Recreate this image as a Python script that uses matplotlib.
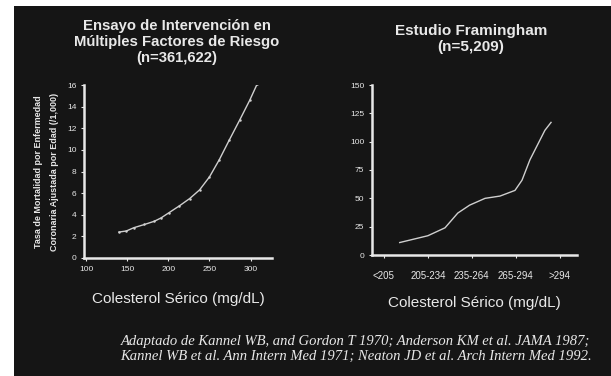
import matplotlib
matplotlib.use('Agg')
import matplotlib.pyplot as plt
from matplotlib.patches import Rectangle

# MRFIT: serum cholesterol (mg/dL) vs age adjusted CHD death rate per 1,000
MrfitChol = [140, 149, 158, 171, 183, 191, 201, 213, 226, 238, 250, 262, 274, 287, 299, 308]
MrfitRate = [2.4, 2.5, 2.8, 3.1, 3.4, 3.7, 4.2, 4.8, 5.5, 6.3, 7.5, 9.1, 10.9, 12.8, 14.6, 16.1]
MrfitXTicks = [100, 150, 200, 250, 300]
MrfitYTicks = [0, 2, 4, 6, 8, 10, 12, 14, 16]

# Framingham: cholesterol class position vs CHD incidence per 1,000
FramPos  = [0.36, 1.0, 1.39, 1.68, 1.95, 2.3, 2.64, 2.98, 3.14, 3.32, 3.66, 3.8]
FramRate = [11, 17, 24, 37, 44, 50, 52, 57, 66, 84, 110, 117]
FramXLabels = ['<205', '205-234', '235-264', '265-294', '>294']
FramYTicks = [0, 25, 50, 75, 100, 125, 150]

BG = '#151515'
FG = '#e8e8e8'

plt.rcParams['font.family'] = ['Liberation Sans', 'DejaVu Sans']

fig = plt.figure(figsize=(6.11, 3.76), dpi=100)
fig.patch.set_facecolor('white')
fig.patches.append(Rectangle((14/611., 0.), 1-14/611., 1-6/376., transform=fig.transFigure,
                             facecolor=BG, edgecolor='none', zorder=-5))

def StyleAxes(ax):
    ax.set_facecolor('none')
    for s in ['top', 'right']:
        ax.spines[s].set_visible(False)
    for s in ['left', 'bottom']:
        ax.spines[s].set_color(FG)
        ax.spines[s].set_linewidth(1.8)
    ax.tick_params(colors=FG, labelsize=6, length=2.5, width=0.8, pad=3)

# left panel - MRFIT
ax1 = fig.add_axes([84/611., 1-258/376., 188/611., 173/376.]) # left, bottom, width, height
StyleAxes(ax1)
ax1.plot(MrfitChol, MrfitRate, c='#cfcfcf', linestyle='solid', linewidth=1.0,
         marker='o', markersize=1.8, markeredgewidth=0)
ax1.set_xlim(97.5, 326)
ax1.set_ylim(0, 16)
ax1.set_xticks(MrfitXTicks)
ax1.set_yticks(MrfitYTicks)
ax1.set_xlabel('Colesterol Sérico (mg/dL)', color=FG, fontsize=11, labelpad=14)
ax1.set_ylabel('Tasa de Mortalidad por Enfermedad\nCoronaria Ajustada por Edad (/1,000)',
               color=FG, fontsize=6.5, fontweight='bold', labelpad=6, linespacing=1.9)
fig.text(177/611., 1-42/376., 'Ensayo de Intervención en\nMúltiples Factores de Riesgo\n(n=361,622)',
         color=FG, fontsize=10.7, fontweight='bold', ha='center', va='center', linespacing=1.15)

# right panel - Framingham
ax2 = fig.add_axes([372/611., 1-255/376., 205/611., 170/376.])
StyleAxes(ax2)
ax2.tick_params(axis='x', labelsize=7, pad=9)
ax2.plot(FramPos, FramRate, c='#cfcfcf', linestyle='solid', linewidth=1.0)
ax2.set_xlim(-0.27, 4.39)
ax2.set_ylim(0, 150)
ax2.set_xticks(range(len(FramXLabels)))
ax2.set_xticklabels(FramXLabels)
ax2.set_yticks(FramYTicks)
ax2.set_xlabel('Colesterol Sérico (mg/dL)', color=FG, fontsize=11, labelpad=11)
fig.text(471/611., 1-39/376., 'Estudio Framingham\n(n=5,209)',
         color=FG, fontsize=11, fontweight='bold', ha='center', va='center', linespacing=1.2)

# references underneath
fig.text(592/611., 1-349/376.,
         'Adaptado de Kannel WB, and Gordon T 1970; Anderson KM et al. JAMA 1987;\n'
         'Kannel WB et al. Ann Intern Med 1971; Neaton JD et al. Arch Intern Med 1992.',
         color=FG, fontsize=10.5, family=['Liberation Serif', 'DejaVu Serif'], style='italic',
         ha='right', va='center', multialignment='left', linespacing=1.15)

plt.savefig('out.png', dpi=100, facecolor=fig.get_facecolor())
